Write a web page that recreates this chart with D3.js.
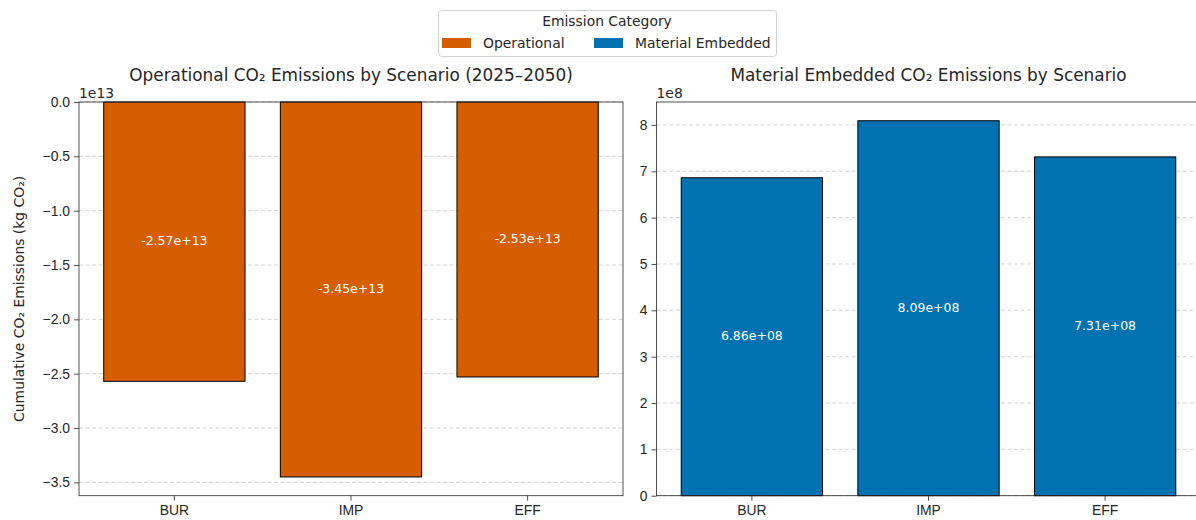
<!DOCTYPE html>
<html>
<head>
<meta charset="utf-8">
<script src="https://cdn.jsdelivr.net/npm/d3@7"></script>
<style>
  body { margin: 0; background: #fff; }
  svg { font-family: "DejaVu Sans", sans-serif; }
</style>
</head>
<body>
<svg id="chart" width="1196" height="520"></svg>
<script>
// Scenarios and cumulative emissions (kg CO2, 2025–2050)
const scenarios = ["BUR", "IMP", "EFF"];
const operational = [-2.57e13, -3.45e13, -2.53e13];
const embedded = [6.86e8, 8.09e8, 7.31e8];
const opTicks = [0, -0.5, -1.0, -1.5, -2.0, -2.5, -3.0, -3.5];
const embTicks = [0, 1, 2, 3, 4, 5, 6, 7, 8];
const legendItems = ["Operational", "Material Embedded"];
const colors = ["#D55E00", "#0072B2"];

const svg = d3.select("#chart");
const plotTop = 102, plotBottom = 495.7;

function panel(cfg) {
  const g = svg.append("g");
  const x = d3.scaleBand().domain(scenarios).range([cfg.left, cfg.right])
    .paddingInner(0.2).paddingOuter(0.14);
  const y = d3.scaleLinear().domain(cfg.domain).range([plotBottom, plotTop]);

  // grid
  g.selectAll("line.grid").data(cfg.ticks).join("line")
    .attr("x1", cfg.left).attr("x2", cfg.right)
    .attr("y1", d => y(d * cfg.scale)).attr("y2", d => y(d * cfg.scale))
    .attr("stroke", "#b0b0b0").attr("stroke-opacity", 0.7)
    .attr("stroke-width", 0.8).attr("stroke-dasharray", "4,2.5");

  // bars
  g.selectAll("rect.bar").data(cfg.values).join("rect")
    .attr("x", (d, i) => x(scenarios[i]))
    .attr("width", x.bandwidth())
    .attr("y", d => Math.min(y(0), y(d)))
    .attr("height", d => Math.abs(y(d) - y(0)))
    .attr("fill", cfg.color).attr("stroke", "#000").attr("stroke-width", 1);

  // value labels
  g.selectAll("text.val").data(cfg.values).join("text")
    .attr("x", (d, i) => x(scenarios[i]) + x.bandwidth() / 2)
    .attr("y", d => (y(0) + y(d)) / 2)
    .attr("dy", "0.3em")
    .attr("text-anchor", "middle").attr("fill", "#fff").attr("font-size", 12.5)
    .text(d => d.toExponential(2).replace(/e([+-])(\d)$/, "e$10$2"));

  // axes
  const yAxis = d3.axisLeft(y).tickValues(cfg.ticks.map(t => t * cfg.scale))
    .tickSize(5).tickPadding(4)
    .tickFormat(d => cfg.fmt(d / cfg.scale));
  const ya = g.append("g").attr("transform", `translate(${cfg.left},0)`).call(yAxis);
  ya.select(".domain").remove();
  ya.selectAll("text").attr("font-size", 13.9).attr("fill", "#262626");
  ya.selectAll("line").attr("stroke", "#262626").attr("stroke-width", 0.8);

  const xAxis = d3.axisBottom(x).tickSize(5).tickPadding(4);
  const xa = g.append("g").attr("transform", `translate(0,${plotBottom})`).call(xAxis);
  xa.select(".domain").remove();
  xa.selectAll("text").attr("font-size", 13.9).attr("fill", "#262626");
  xa.selectAll("line").attr("stroke", "#262626").attr("stroke-width", 0.8);

  // spines
  g.append("rect").attr("x", cfg.left).attr("y", plotTop)
    .attr("width", cfg.right - cfg.left).attr("height", plotBottom - plotTop)
    .attr("fill", "none").attr("stroke", "#262626").attr("stroke-width", 0.8);

  // offset text
  g.append("text").attr("x", cfg.left).attr("y", plotTop - 4)
    .attr("font-size", 13.9).attr("fill", "#262626").text(cfg.offset);

  // title
  g.append("text").attr("x", (cfg.left + cfg.right) / 2).attr("y", 80.5)
    .attr("text-anchor", "middle").attr("font-size", 16.9).attr("fill", "#262626")
    .text(cfg.title);
}

panel({
  left: 79, right: 623, domain: [-3.6225e13, 0], values: operational,
  ticks: opTicks, scale: 1e13, color: colors[0], offset: "1e13",
  fmt: d => d3.format(".1f")(d).replace("-", "\u2212"),
  title: "Operational CO\u2082 Emissions by Scenario (2025\u20132050)"
});
panel({
  left: 656.5, right: 1200.5, domain: [0, 8.4945e8], values: embedded,
  ticks: embTicks, scale: 1e8, color: colors[1], offset: "1e8",
  fmt: d => d3.format("d")(d),
  title: "Material Embedded CO\u2082 Emissions by Scenario"
});

// y-axis label
svg.append("text")
  .attr("transform", `translate(24,${(plotTop + plotBottom) / 2}) rotate(-90)`)
  .attr("text-anchor", "middle").attr("font-size", 13.9).attr("fill", "#262626")
  .text("Cumulative CO\u2082 Emissions (kg CO\u2082)");

// legend
const lg = svg.append("g");
lg.append("rect").attr("x", 438.5).attr("y", 10.5).attr("width", 338).attr("height", 46)
  .attr("rx", 3).attr("fill", "#fff").attr("stroke", "#d0d0d0").attr("stroke-width", 1);
lg.append("text").attr("x", 607).attr("y", 26).attr("text-anchor", "middle")
  .attr("font-size", 13.9).attr("fill", "#262626").text("Emission Category");
const entryX = [442, 594];
legendItems.forEach((name, i) => {
  lg.append("rect").attr("x", entryX[i]).attr("y", 38).attr("width", 29).attr("height", 10)
    .attr("fill", colors[i]);
  lg.append("text").attr("x", entryX[i] + 41).attr("y", 47.5)
    .attr("font-size", 13.9).attr("fill", "#262626").text(name);
});
</script>
</body>
</html>
